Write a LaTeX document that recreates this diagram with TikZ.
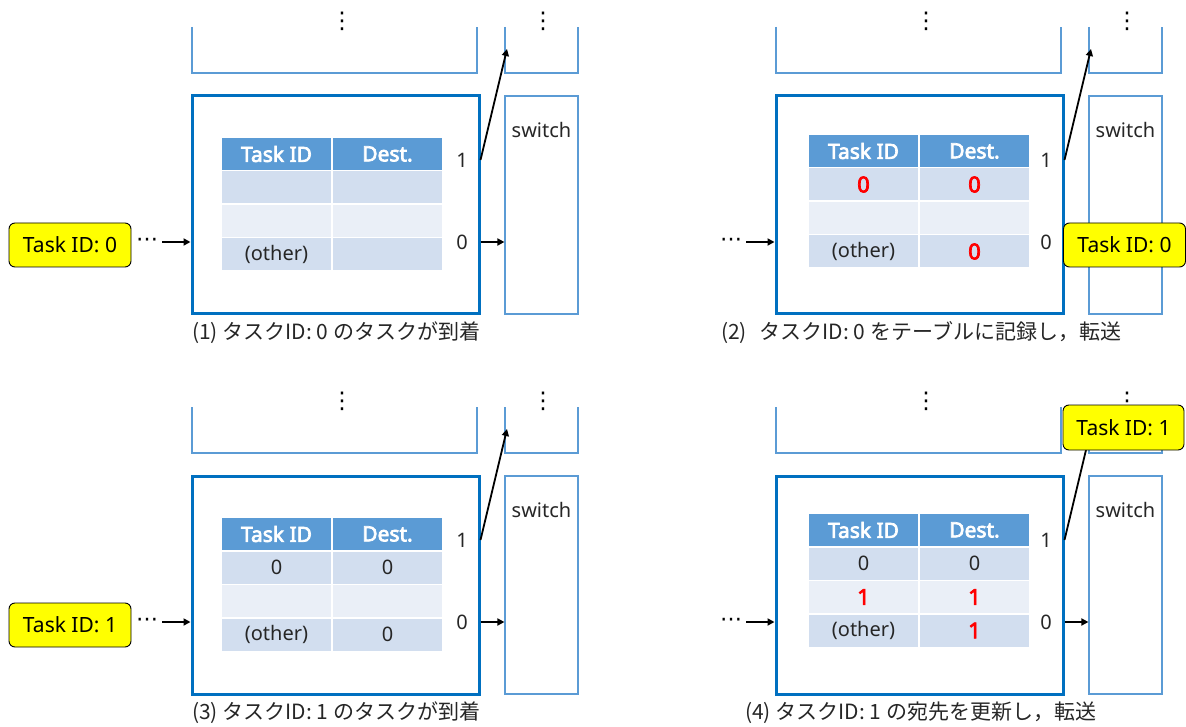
\documentclass[tikz,border=0pt]{standalone}
\usepackage{fontspec}
\setmainfont{Noto Sans}[BoldFont={Noto Sans}, BoldFeatures={FakeBold=3.4}]
\newfontfamily\cjkfont{Noto Sans CJK JP}
\newfontfamily\dotsfont{DejaVu Sans}
\usetikzlibrary{arrows.meta}

\definecolor{mainblue}{HTML}{0070C0}
\definecolor{lineblue}{HTML}{5B9BD5}
\definecolor{headblue}{HTML}{5B9BD5}
\definecolor{rowdark}{HTML}{D2DEEF}
\definecolor{rowlight}{HTML}{EAEFF7}
\definecolor{ink}{HTML}{262626}
\definecolor{hot}{HTML}{FF0000}
\definecolor{tagyellow}{HTML}{FFFF00}

\newcommand\hotval[1]{\textcolor{hot}{\bfseries\fontsize{22}{24}\selectfont #1}}

\tikzset{
  thinline/.style={draw=lineblue, line width=1.2pt},
  mainbox/.style={draw=mainblue, line width=3pt, minimum width=287, minimum height=218, inner sep=0},
  swbox/.style={draw=lineblue, line width=1.2pt, minimum width=73, minimum height=218, inner sep=0},
  txt/.style={text=ink, inner sep=0, font=\fontsize{20}{24}\selectfont},
  vdots/.style={text=black, inner sep=0, font=\dotsfont\fontsize{23}{26}\selectfont},
  cell/.style={anchor=north west, minimum width=109, minimum height=32, inner sep=0, outer sep=0,
    text=ink, font=\fontsize{20}{24}\selectfont},
  head/.style={fill=headblue, text=white, font=\bfseries\fontsize{21}{24}\selectfont},
  flow/.style={draw=black, line width=2.2pt, -{Triangle[length=7pt,width=7pt]}},
  flowthin/.style={draw=black, line width=1.8pt, -{Triangle[length=7pt,width=7pt]}},
  tag/.style={draw=black, fill=tagyellow, line width=0.9pt, rounded corners=6pt,
    minimum width=122, minimum height=44, inner sep=0, text=black, font=\fontsize{21}{24}\selectfont},
  caption/.style={anchor=west, inner sep=0, text=ink, font=\cjkfont\fontsize{21}{24}\selectfont}
}

% One router stage: upper neighbour boxes, the router, the switch and its ports
\newcommand\panelframe[3]{%
  \begin{scope}[shift={(#2,#3)}]
    \draw[thinline] (192,27) -- (192,73) -- (477,73) -- (477,27);
    \draw[thinline] (505,27) -- (505,73) -- (578,73) -- (578,27);
    \node[vdots] (#1va) at (342,21) {⋮};
    \node[vdots] (#1vb) at (543,21) {⋮};
    \node[mainbox] (#1main) at (335.5,205) {};
    \node[swbox] (#1sw) at (541.5,205) {};
    \node[txt] (#1swl) at (541.5,130) {switch};
    \node[txt] (#1p1) at (462,160) {1};
    \node[txt] (#1p0) at (462,242) {0};
    \node[vdots, font=\dotsfont\fontsize{22}{24}\selectfont] (#1ell) at (147,242) {⋯};
    \coordinate (#1up) at (507,49);
  \end{scope}
  \draw[flow] ([xshift=4pt]#1ell.east) -- (#1main.west |- #1ell);
  \draw[flow] (#1main.east |- #1p0) -- (#1sw.west |- #1p0);
  \draw[flowthin] (#1main.east |- #1p1) -- (#1up);
}

% Routing table: name prefix, x, y, row1 id, row1 dest, row2 id, row2 dest, default dest
\newcommand\routetable[8]{%
  \node[cell, head] (#1h1) at (#2,#3) {Task ID};
  \node[cell, head] (#1h2) at (#2+111,#3) {Dest.};
  \node[cell, fill=rowdark] (#1a1) at (#2,#3+33.5) {#4};
  \node[cell, fill=rowdark] (#1a2) at (#2+111,#3+33.5) {#5};
  \node[cell, fill=rowlight] (#1b1) at (#2,#3+67) {#6};
  \node[cell, fill=rowlight] (#1b2) at (#2+111,#3+67) {#7};
  \node[cell, fill=rowdark] (#1c1) at (#2,#3+100.5) {(other)};
  \node[cell, fill=rowdark] (#1c2) at (#2+111,#3+100.5) {#8};
}

\begin{document}
\begin{tikzpicture}[x=1pt, y=-1pt]
  \useasboundingbox (0,0) rectangle (1186,727);

  % stage frames
  \panelframe{A}{0}{0}
  \panelframe{B}{584}{0}
  \panelframe{C}{0}{380}
  \panelframe{D}{584}{380}

  % routing tables
  \routetable{At}{222}{138}{}{}{}{}{}
  \routetable{Bt}{809}{135}{\hotval{0}}{\hotval{0}}{}{}{\hotval{0}}
  \routetable{Ct}{222}{518}{0}{0}{}{}{0}
  \routetable{Dt}{809}{514}{0}{0}{\hotval{1}}{\hotval{1}}{\hotval{1}}

  % tasks
  \node[tag] (taskA) at (70,245) {Task ID: 0};
  \node[tag] (taskB) at (1124.5,245) {Task ID: 0};
  \node[tag] (taskC) at (70,625) {Task ID: 1};
  \node[tag, minimum width=121, minimum height=45] (taskD) at (1123.5,427.5) {Task ID: 1};

  % captions
  \node[caption] (capA) at (192,333) {(1) タスクID: 0 のタスクが到着};
  \node[caption] (capB) at (721,333) {(2)\hspace{8pt} タスクID: 0 をテーブルに記録し，転送};
  \node[caption] (capC) at (192,713) {(3) タスクID: 1 のタスクが到着};
  \node[caption] (capD) at (745,713) {(4) タスクID: 1 の宛先を更新し，転送};
\end{tikzpicture}
\end{document}
